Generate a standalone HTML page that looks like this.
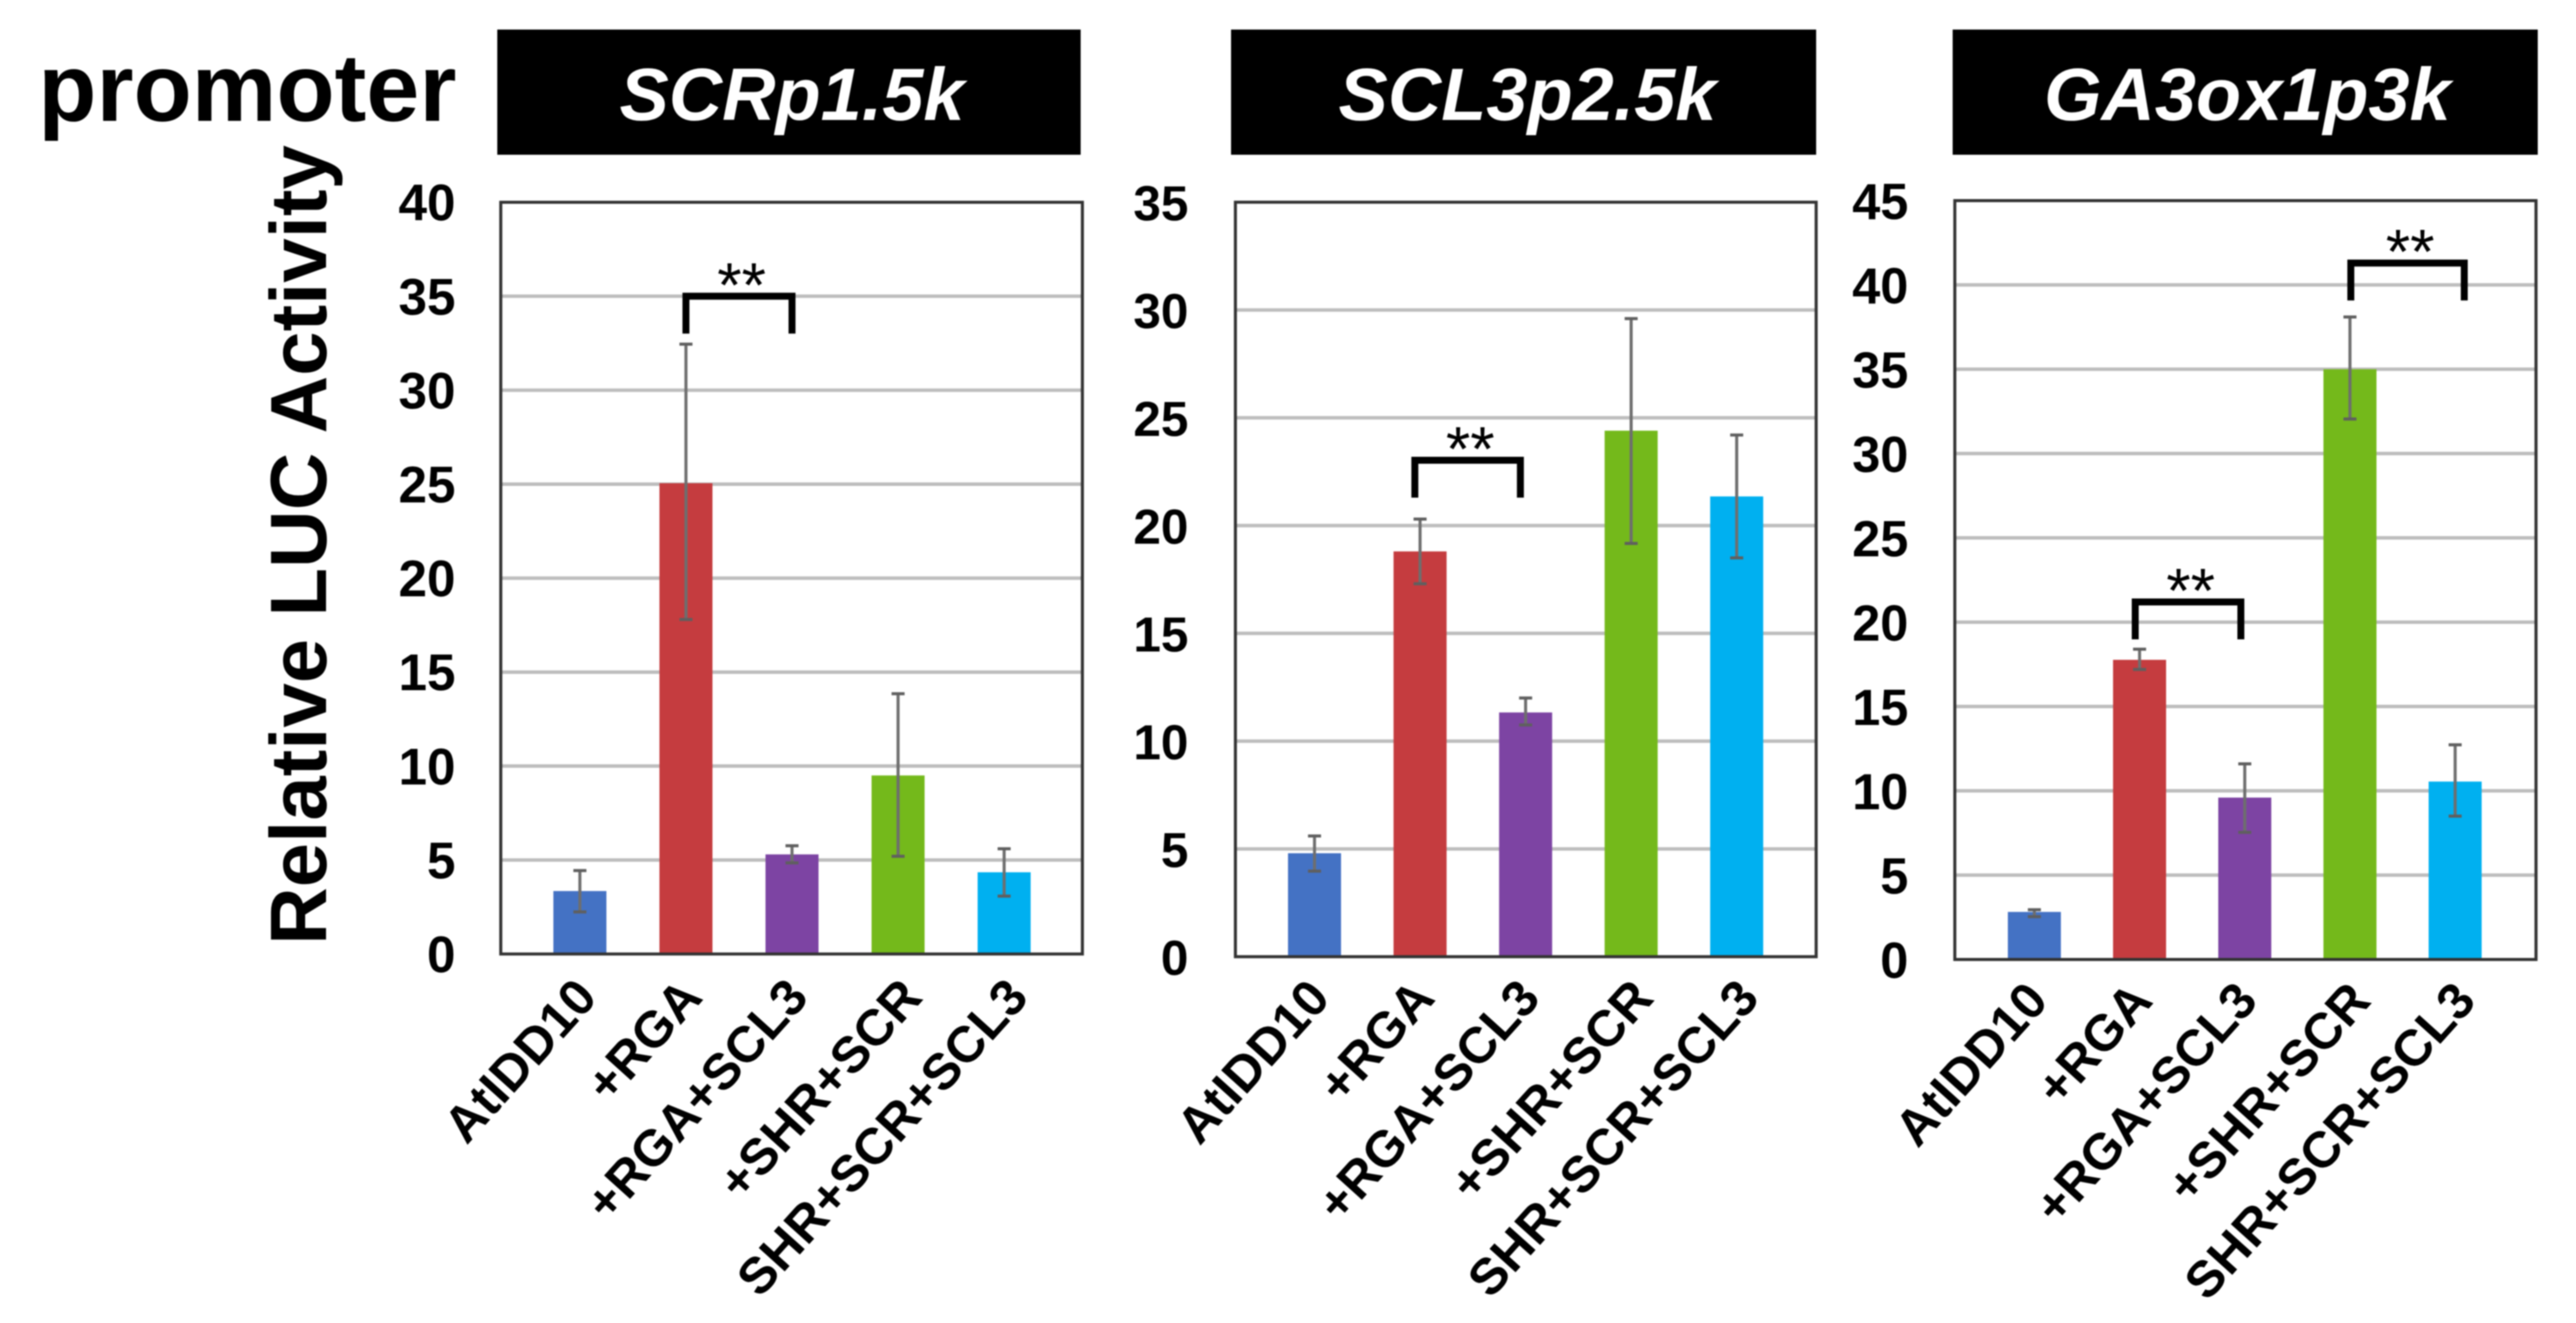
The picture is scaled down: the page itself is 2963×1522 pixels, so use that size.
<!DOCTYPE html>
<html lang="en">
<head>
<meta charset="utf-8">
<title>Relative LUC Activity by promoter</title>
<style>
html,body{margin:0;padding:0;background:#fff;}
svg{display:block;filter:blur(0.7px);}
text{font-family:"Liberation Sans",Arial,sans-serif;}
</style>
</head>
<body>
<svg id="figure" xmlns="http://www.w3.org/2000/svg" width="2963" height="1522" viewBox="0 0 2963 1522">
  <rect x="0" y="0" width="2963" height="1522" fill="#ffffff"/>
  <text x="44" y="139" font-size="110" font-weight="700" fill="#000" textLength="481" lengthAdjust="spacingAndGlyphs">promoter</text>
  <text transform="translate(375,1087) rotate(-90)" font-size="92" font-weight="700" fill="#000" textLength="920" lengthAdjust="spacingAndGlyphs">Relative LUC Activity</text>
  <rect x="572" y="34" width="671" height="144" fill="#000"/>
  <text x="911" y="138" font-size="85" font-weight="700" font-style="italic" fill="#fff" text-anchor="middle">SCRp1.5k</text>
  <rect x="1416" y="34" width="673" height="144" fill="#000"/>
  <text x="1757" y="138" font-size="85" font-weight="700" font-style="italic" fill="#fff" text-anchor="middle">SCL3p2.5k</text>
  <rect x="2246" y="34" width="673" height="144" fill="#000"/>
  <text x="2585" y="138" font-size="85" font-weight="700" font-style="italic" fill="#fff" text-anchor="middle">GA3ox1p3k</text>
  <g id="panel-scr"></g>
  <g id="panel-scl3"></g>
  <g id="panel-ga3ox1"></g>
</svg>
<script>
const categories = ["AtIDD10", "+RGA", "+RGA+SCL3", "+SHR+SCR", "SHR+SCR+SCL3"];
const barColors = ["#4472C4", "#C53C3F", "#7D44A3", "#74B91B", "#00B0F0"];

const scrTicks = [0, 5, 10, 15, 20, 25, 30, 35, 40];
const scrValues = [3.35, 25.05, 5.3, 9.5, 4.35];
const scrErrLow = [2.24, 17.8, 4.85, 5.2, 3.08];
const scrErrHigh = [4.44, 32.45, 5.76, 13.85, 5.6];
const scrBracketLevels = [35.0];

const sclTicks = [0, 5, 10, 15, 20, 25, 30, 35];
const sclValues = [4.8, 18.8, 11.33, 24.4, 21.35];
const sclErrLow = [3.97, 17.3, 10.75, 19.17, 18.5];
const sclErrHigh = [5.6, 20.3, 12.0, 29.6, 24.2];
const sclBracketLevels = [23.03];

const gaTicks = [0, 5, 10, 15, 20, 25, 30, 35, 40, 45];
const gaValues = [2.82, 17.77, 9.6, 35.0, 10.55];
const gaErrLow = [2.54, 17.2, 7.54, 32.05, 8.5];
const gaErrHigh = [2.95, 18.4, 11.6, 38.1, 12.73];
const gaBracketLevels = [21.2, 41.3];

const NS = "http://www.w3.org/2000/svg";
const labelShift = [1, 0, 0, 9, 9];

function make(tag, attrs, parent) {
  const el = document.createElementNS(NS, tag);
  for (const k in attrs) el.setAttribute(k, attrs[k]);
  parent.appendChild(el);
  return el;
}

function drawPanel(cfg) {
  const root = document.getElementById(cfg.id);
  const yMax = cfg.ticks[cfg.ticks.length - 1];
  const yScale = v => cfg.bottom - (v / yMax) * (cfg.bottom - cfg.top);
  const xScale = i => cfg.firstCenter + i * cfg.step;

  cfg.ticks.forEach(t => {
    if (t !== 0 && t !== yMax) {
      const grid = make("line", {x1: cfg.left, x2: cfg.right, y1: yScale(t), y2: yScale(t), stroke: "#BDBDBD", "stroke-width": 4}, root);
      
      
    }
    const label = make("text", {x: cfg.tickRight, y: yScale(t) + 21, "text-anchor": "end", "font-size": cfg.tickSize, "font-weight": 700, fill: "#000"}, root);
    
    
    label.textContent = String(t);
  });

  cfg.values.forEach((v, i) => {
    const cx = xScale(i);
    const bar = make("rect", {x: cx - cfg.barWidth / 2, y: yScale(v), width: cfg.barWidth, height: cfg.bottom - yScale(v), fill: barColors[i]}, root);
    
    
  });

  const frame = make("rect", {x: cfg.left, y: cfg.top, width: cfg.right - cfg.left, height: cfg.bottom - cfg.top, fill: "none", stroke: "#333333", "stroke-width": 3.5}, root);
  
  

  cfg.values.forEach((v, i) => {
    const cx = xScale(i);
    const hi = yScale(cfg.errHigh[i]);
    const lo = yScale(cfg.errLow[i]);
    const stem = make("line", {x1: cx, x2: cx, y1: hi, y2: lo, stroke: "#6E6E6E", "stroke-width": 3.5}, root);
    
    
    const capTop = make("line", {x1: cx - 7.5, x2: cx + 7.5, y1: hi, y2: hi, stroke: "#5F5F5F", "stroke-width": 3.5}, root);
    
    
    const capBottom = make("line", {x1: cx - 7.5, x2: cx + 7.5, y1: lo, y2: lo, stroke: "#5F5F5F", "stroke-width": 3.5}, root);
    
    

    const ax = cx + cfg.labelOffset + labelShift[i];
    const cat = make("text", {transform: "translate(" + ax + "," + cfg.labelY + ") rotate(-48)", "text-anchor": "end", "font-size": 58.5, "font-weight": 700, fill: "#000"}, root);
    
    
    cat.textContent = categories[i];
  });

  cfg.bracketLevels.forEach((level, b) => {
    const layout = cfg.brackets[b];
    const x1 = xScale(layout.from) + layout.dxFrom;
    const x2 = xScale(layout.to) + layout.dxTo;
    const y = yScale(level);
    const path = make("path", {d: "M" + x1 + " " + (y + 43) + "V" + y + "H" + x2 + "V" + (y + 43), fill: "none", stroke: "#000", "stroke-width": 8}, root);
    
    
    const star = make("text", {x: (x1 + x2) / 2 + 3, y: y + 12, "text-anchor": "middle", "font-size": 72, fill: "#000"}, root);
    
    
    star.textContent = "**";
  });
}

drawPanel({
  id: "panel-scr", ticks: scrTicks, values: scrValues, errLow: scrErrLow, errHigh: scrErrHigh, bracketLevels: scrBracketLevels,
  left: 576, right: 1245, top: 232.7, bottom: 1097.5,
  firstCenter: 667, step: 122, barWidth: 61, tickRight: 524, tickSize: 59, labelOffset: 21, labelY: 1149,
  brackets: [{from: 1, to: 2, dxFrom: 0, dxTo: 0}]
});
drawPanel({
  id: "panel-scl3", ticks: sclTicks, values: sclValues, errLow: sclErrLow, errHigh: sclErrHigh, bracketLevels: sclBracketLevels,
  left: 1421, right: 2089, top: 232.6, bottom: 1100.6,
  firstCenter: 1512, step: 121.4, barWidth: 61, tickRight: 1367, tickSize: 57, labelOffset: 19, labelY: 1150,
  brackets: [{from: 1, to: 2, dxFrom: -6, dxTo: -6}]
});
drawPanel({
  id: "panel-ga3ox1", ticks: gaTicks, values: gaValues, errLow: gaErrLow, errHigh: gaErrHigh, bracketLevels: gaBracketLevels,
  left: 2248.5, right: 2917, top: 230.8, bottom: 1103.8,
  firstCenter: 2340, step: 121, barWidth: 61, tickRight: 2195, tickSize: 58, labelOffset: 17, labelY: 1153,
  brackets: [{from: 1, to: 2, dxFrom: -5, dxTo: -4.5}, {from: 3, to: 4, dxFrom: 1, dxTo: 10.5}]
});
</script>
</body>
</html>
